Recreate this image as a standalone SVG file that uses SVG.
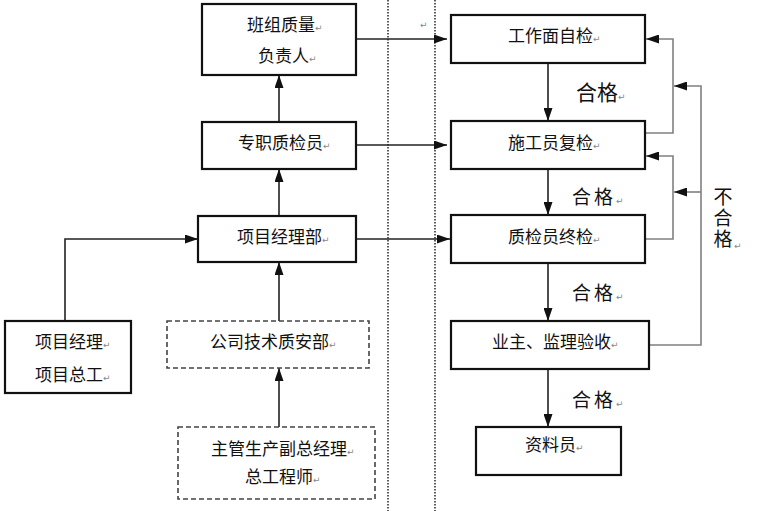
<svg xmlns="http://www.w3.org/2000/svg" width="760" height="511" viewBox="0 0 760 511">
<style>
.box{fill:#fff;stroke:#111;stroke-width:2.2}
.dbox{fill:#fff;stroke:#444;stroke-width:1.6;stroke-dasharray:5 3}
.t{font-family:"Noto Sans CJK SC","Liberation Serif",serif;font-size:17px;fill:#111}
.pm{font-family:"DejaVu Sans",sans-serif;font-size:9px;fill:#888}
.lbl{font-family:"Noto Sans CJK SC",sans-serif;fill:#111}
.c{fill:none;stroke:#222;stroke-width:1.6}
.g{fill:none;stroke:#808080;stroke-width:1.6}
.dot{fill:none;stroke:#333;stroke-width:1.6;stroke-dasharray:1.5 1.5}
</style>
<defs>
<marker id="ah" markerUnits="userSpaceOnUse" markerWidth="13" markerHeight="9" refX="13" refY="4.5" orient="auto">
<path d="M0,0 L13,4.5 L0,9 z" fill="#111"/>
</marker>
</defs>
<rect width="760" height="511" fill="#fff"/>
<g id="dividers">
<line class="dot" x1="388" y1="0" x2="388" y2="511"/>
<line class="dot" x1="435" y1="0" x2="435" y2="511"/>
<text class="pm" x="420" y="28">↵</text>
</g>
<g id="connectors">
<path class="c" d="M279,216 V169" marker-end="url(#ah)"/>
<path class="c" d="M279,122 V75" marker-end="url(#ah)"/>
<path class="c" d="M279,321 V262" marker-end="url(#ah)"/>
<path class="c" d="M279,427 V368" marker-end="url(#ah)"/>
<path class="c" d="M65,321 V239 H198" marker-end="url(#ah)"/>
<path class="c" d="M356,39 H447" marker-end="url(#ah)"/>
<path class="c" d="M356,145 H447" marker-end="url(#ah)"/>
<path class="c" d="M356,239 H450" marker-end="url(#ah)"/>
<path class="c" d="M548,63 V121" marker-end="url(#ah)"/>
<path class="c" d="M548,169 V215" marker-end="url(#ah)"/>
<path class="c" d="M548,263 V321" marker-end="url(#ah)"/>
<path class="c" d="M548,369 V427" marker-end="url(#ah)"/>
<path class="g" d="M645,133 H673 V39 H646" marker-end="url(#ah)"/>
<path class="g" d="M645,239 H673 V156 H646" marker-end="url(#ah)"/>
<path class="g" d="M649,345 H701 V86 H674" marker-end="url(#ah)"/>
<path class="g" d="M701,192 H674" marker-end="url(#ah)"/>
</g>
<g id="n_banzu">
<rect class="box" x="202" y="4" width="154" height="71"/>
<text class="t" x="247" y="31">班组质量<tspan class="pm">↵</tspan></text>
<text class="t" x="258" y="62">负责人<tspan class="pm">↵</tspan></text>
</g>
<g id="n_zhuanzhi">
<rect class="box" x="202" y="122" width="154" height="47"/>
<text class="t" x="238" y="149">专职质检员<tspan class="pm">↵</tspan></text>
</g>
<g id="n_xmjlb">
<rect class="box" x="198" y="216" width="158" height="46"/>
<text class="t" x="237" y="243">项目经理部<tspan class="pm">↵</tspan></text>
</g>
<g id="n_xmjl">
<rect class="box" x="5" y="321" width="126" height="72"/>
<text class="t" x="35" y="348">项目经理<tspan class="pm">↵</tspan></text>
<text class="t" x="35" y="381">项目总工<tspan class="pm">↵</tspan></text>
</g>
<g id="n_gongsi">
<rect class="dbox" x="167" y="321" width="202" height="47"/>
<text class="t" x="210" y="348">公司技术质安部<tspan class="pm">↵</tspan></text>
</g>
<g id="n_zhuguan">
<rect class="dbox" x="178" y="427" width="197" height="72"/>
<text class="t" x="211" y="455">主管生产副总经理<tspan class="pm">↵</tspan></text>
<text class="t" x="245" y="483">总工程师<tspan class="pm">↵</tspan></text>
</g>
<g id="n_zijian">
<rect class="box" x="451" y="15" width="194" height="48"/>
<text class="t" x="508" y="42">工作面自检<tspan class="pm">↵</tspan></text>
</g>
<g id="n_fujian">
<rect class="box" x="451" y="121" width="194" height="48"/>
<text class="t" x="508" y="149">施工员复检<tspan class="pm">↵</tspan></text>
</g>
<g id="n_zhongjian">
<rect class="box" x="451" y="215" width="194" height="48"/>
<text class="t" x="508" y="243">质检员终检<tspan class="pm">↵</tspan></text>
</g>
<g id="n_yezhu">
<rect class="box" x="451" y="321" width="198" height="48"/>
<text class="t" x="492" y="348">业主、监理验收<tspan class="pm">↵</tspan></text>
</g>
<g id="n_ziliao">
<rect class="box" x="476" y="427" width="145" height="48"/>
<text class="t" x="525" y="451">资料员<tspan class="pm">↵</tspan></text>
</g>
<g id="labels">
<text class="lbl" x="576" y="100" font-size="21">合格<tspan class="pm">↵</tspan></text>
<text class="lbl" x="572" y="204" font-size="19" letter-spacing="3">合格<tspan class="pm" letter-spacing="0">↵</tspan></text>
<text class="lbl" x="572" y="300" font-size="19" letter-spacing="3">合格<tspan class="pm" letter-spacing="0">↵</tspan></text>
<text class="lbl" x="572" y="407" font-size="19" letter-spacing="3">合格<tspan class="pm" letter-spacing="0">↵</tspan></text>
<text class="lbl" x="723" y="187" font-size="19" letter-spacing="2" style="writing-mode:vertical-rl;text-orientation:upright">不合格</text>
<text class="pm" x="734" y="249">↵</text>
</g>
</svg>
